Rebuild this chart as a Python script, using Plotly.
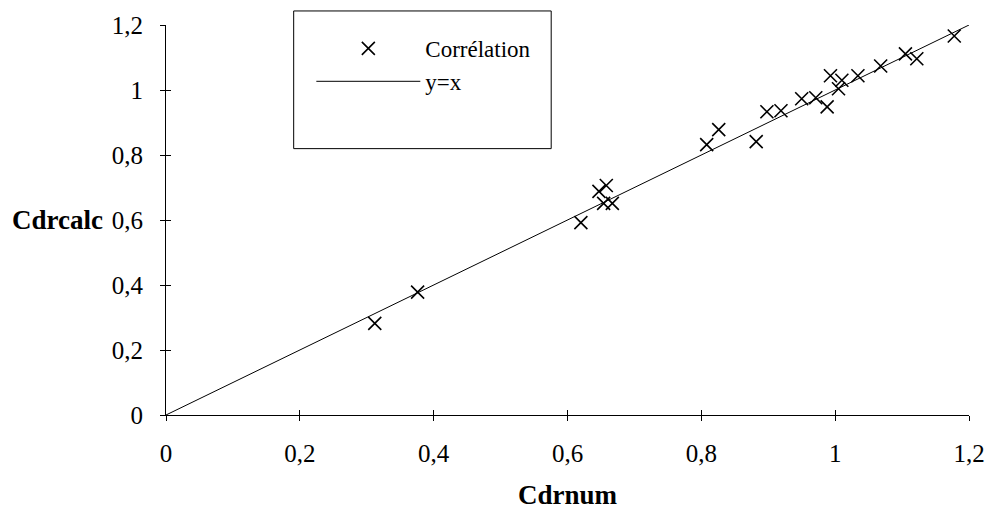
import plotly.graph_objects as go

# Numerical vs. correlation-computed discharge coefficients
cdr_num = [0.312, 0.376, 0.620, 0.647, 0.654, 0.658, 0.667, 0.808, 0.826,
           0.882, 0.898, 0.919, 0.950, 0.971, 0.988, 0.993, 1.005, 1.010,
           1.034, 1.068, 1.105, 1.122, 1.178]
cdr_calc = [0.282, 0.378, 0.592, 0.688, 0.651, 0.706, 0.651, 0.832, 0.878,
            0.841, 0.933, 0.936, 0.973, 0.976, 0.948, 1.044, 1.004, 1.030,
            1.044, 1.074, 1.111, 1.096, 1.166]

# Reference line y = x
line_x = [0, 1.2]
line_y = [0, 1.2]

tick_vals = [0, 0.2, 0.4, 0.6, 0.8, 1.0, 1.2]
tick_text = ["0", "0,2", "0,4", "0,6", "0,8", "1", "1,2"]

SERIF = "Times New Roman, Liberation Serif, serif"

fig = go.Figure()

fig.add_trace(go.Scatter(
    x=cdr_num, y=cdr_calc, mode="markers", name="Corrélation",
    marker=dict(symbol="x-thin", size=13, line=dict(color="black", width=1.6)),
    legendrank=1, legendgroup="a",
))
fig.add_trace(go.Scatter(
    x=line_x, y=line_y, mode="lines", name="y=x",
    line=dict(color="black", width=1), legendrank=2, legendgroup="b",
))

axis_common = dict(
    range=[0, 1.2], tickvals=tick_vals, ticktext=tick_text,
    showgrid=False, zeroline=False, showline=True, linecolor="black",
    linewidth=1, ticks="outside", ticklen=5, tickwidth=1, tickcolor="black",
    tickfont=dict(family=SERIF, size=25, color="black"),
)

fig.update_layout(
    width=997, height=515,
    margin=dict(l=166, r=20, t=24, b=100),
    paper_bgcolor="white", plot_bgcolor="white",
    showlegend=True,
    legend=dict(
        x=0.181, y=0.995, xanchor="left", yanchor="top",
        borderwidth=0, bgcolor="rgba(0,0,0,0)",
        font=dict(family=SERIF, size=23, color="black"),
        itemwidth=104, tracegroupgap=0, traceorder="grouped",
    ),
    xaxis=dict(**axis_common, ticklabelstandoff=11),
    yaxis=dict(**axis_common, ticklabelstandoff=12),
    # second set of axes only for the inner half of the cross ticks
    xaxis2=dict(overlaying="x", matches="x", range=[0, 1.2], tickvals=tick_vals,
                showticklabels=False, ticks="inside", ticklen=5, tickcolor="black",
                showgrid=False, zeroline=False, showline=False, anchor="y2"),
    yaxis2=dict(overlaying="y", matches="y", range=[0, 1.2], tickvals=tick_vals,
                showticklabels=False, ticks="inside", ticklen=5, tickcolor="black",
                showgrid=False, zeroline=False, showline=False, anchor="x2"),
    shapes=[
        # legend frame
        dict(type="rect", xref="paper", yref="paper",
             x0=0.159, x1=0.4797, y0=0.683, y1=1.036,
             line=dict(color="black", width=1), fillcolor="rgba(0,0,0,0)",
             layer="below"),
    ],
    annotations=[
        dict(text="<b>Cdrcalc</b>", xref="paper", yref="y", x=-0.1356, y=0.6,
             xanchor="center", yanchor="middle", showarrow=False,
             font=dict(family=SERIF, size=27, color="black")),
        dict(text="<b>Cdrnum</b>", xref="paper", yref="paper", x=0.5, y=-0.205,
             xanchor="center", yanchor="middle", showarrow=False,
             font=dict(family=SERIF, size=27, color="black")),
    ],
)

fig.add_trace(go.Scatter(x=line_x, y=line_y, xaxis="x2", yaxis="y2",
                         mode="lines", line=dict(width=0), opacity=0,
                         showlegend=False, hoverinfo="skip"))

fig.write_html("out.html")
